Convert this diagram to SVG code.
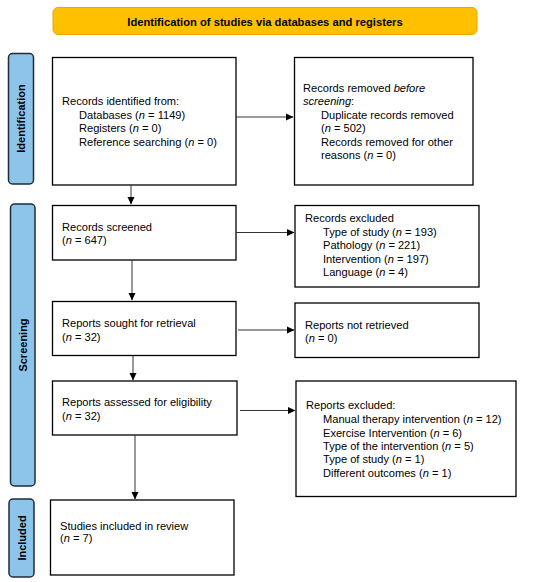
<svg xmlns="http://www.w3.org/2000/svg" width="550" height="582" viewBox="0 0 550 582">
<defs>
<marker id="ah" markerWidth="8" markerHeight="8" refX="7" refY="4" orient="auto" markerUnits="userSpaceOnUse">
<path d="M0,0.5 L7.5,4 L0,7.5 Z" fill="#000"/>
</marker>
</defs>
<style>
.box{fill:#fff;stroke:#000;stroke-width:1.3}
.t{font-family:"Liberation Sans",Arial,sans-serif;font-size:11.1px;fill:#000}
.side{fill:#8DC5EA;stroke:#1f2d3a;stroke-width:1.5}
.sl{font-family:"Liberation Sans",Arial,sans-serif;font-size:11px;font-weight:bold;fill:#000}
.c{stroke:#333;stroke-width:1;fill:none;marker-end:url(#ah)}
</style>
<rect width="550" height="582" fill="#fff"/>
<g id="title">
<rect x="53" y="7.5" width="424" height="27" rx="5" fill="#FFC000" stroke="#E8A800" stroke-width="1"/>
<text x="265" y="26" text-anchor="middle" class="t" style="font-weight:bold;font-size:11.2px">Identification of studies via databases and registers</text>
</g>
<g id="side-identification">
<rect class="side" x="8.5" y="53.5" width="25" height="130.5" rx="4"/>
<text class="sl" transform="translate(25,118.5) rotate(-90)" text-anchor="middle">Identification</text>
</g>
<g id="side-screening">
<rect class="side" x="10.5" y="204" width="24.5" height="282" rx="4"/>
<text class="sl" transform="translate(27,345) rotate(-90)" text-anchor="middle">Screening</text>
</g>
<g id="side-included">
<rect class="side" x="9" y="499" width="25" height="78" rx="4"/>
<text class="sl" transform="translate(25.5,538) rotate(-90)" text-anchor="middle">Included</text>
</g>
<g id="n1">
<rect class="box" x="52.5" y="57.5" width="183.5" height="127.5"/>
<text class="t" x="62" y="104.5">Records identified from:</text>
<text class="t" x="79" y="118.5">Databases (<tspan font-style="italic">n</tspan> = 1149)</text>
<text class="t" x="79" y="132">Registers (<tspan font-style="italic">n</tspan> = 0)</text>
<text class="t" x="79" y="145.5">Reference searching (<tspan font-style="italic">n</tspan> = 0)</text>
</g>
<g id="n2">
<rect class="box" x="294.5" y="57.5" width="178.5" height="127.5"/>
<text class="t" x="303" y="92">Records removed <tspan font-style="italic">before</tspan></text>
<text class="t" x="303" y="105"><tspan font-style="italic">screening</tspan>:</text>
<text class="t" x="321" y="118.5">Duplicate records removed</text>
<text class="t" x="321" y="132">(<tspan font-style="italic">n</tspan> = 502)</text>
<text class="t" x="321" y="145.5">Records removed for other</text>
<text class="t" x="321" y="159">reasons (<tspan font-style="italic">n</tspan> = 0)</text>
</g>
<g id="n3">
<rect class="box" x="52.5" y="205.5" width="183.5" height="54.5"/>
<text class="t" x="62" y="230.5">Records screened</text>
<text class="t" x="62" y="244">(<tspan font-style="italic">n</tspan> = 647)</text>
</g>
<g id="n4">
<rect class="box" x="295" y="205.5" width="184" height="81.5"/>
<text class="t" x="305" y="221.5">Records excluded</text>
<text class="t" x="323" y="235.5">Type of study (<tspan font-style="italic">n</tspan> = 193)</text>
<text class="t" x="323" y="249">Pathology (<tspan font-style="italic">n</tspan> = 221)</text>
<text class="t" x="323" y="262.5">Intervention (<tspan font-style="italic">n</tspan> = 197)</text>
<text class="t" x="323" y="275.5">Language (<tspan font-style="italic">n</tspan> = 4)</text>
</g>
<g id="n5">
<rect class="box" x="52.5" y="301.5" width="183.5" height="54"/>
<text class="t" x="62" y="326.5">Reports sought for retrieval</text>
<text class="t" x="62" y="340.5">(<tspan font-style="italic">n</tspan> = 32)</text>
</g>
<g id="n6">
<rect class="box" x="295" y="303" width="184" height="54.5"/>
<text class="t" x="305" y="329">Reports not retrieved</text>
<text class="t" x="305" y="342">(<tspan font-style="italic">n</tspan> = 0)</text>
</g>
<g id="n7">
<rect class="box" x="52.5" y="381" width="184.5" height="54"/>
<text class="t" x="62" y="405.5">Reports assessed for eligibility</text>
<text class="t" x="62" y="420">(<tspan font-style="italic">n</tspan> = 32)</text>
</g>
<g id="n8">
<rect class="box" x="296" y="381" width="220" height="115.5"/>
<text class="t" x="306" y="409">Reports excluded:</text>
<text class="t" x="323" y="423">Manual therapy intervention (<tspan font-style="italic">n</tspan> = 12)</text>
<text class="t" x="323" y="436.5">Exercise Intervention (<tspan font-style="italic">n</tspan> = 6)</text>
<text class="t" x="323" y="450">Type of the intervention (<tspan font-style="italic">n</tspan> = 5)</text>
<text class="t" x="323" y="463">Type of study (<tspan font-style="italic">n</tspan> = 1)</text>
<text class="t" x="323" y="476.5">Different outcomes (<tspan font-style="italic">n</tspan> = 1)</text>
</g>
<g id="n9">
<rect class="box" x="50.5" y="500" width="183.5" height="75"/>
<text class="t" x="60" y="529.5">Studies included in review</text>
<text class="t" x="60" y="542">(<tspan font-style="italic">n</tspan> = 7)</text>
</g>
<g id="connectors">
<line class="c" x1="236" y1="117" x2="293" y2="117"/>
<line class="c" x1="131" y1="185" x2="131" y2="204"/>
<line class="c" x1="236" y1="232.5" x2="294" y2="232.5"/>
<line class="c" x1="132" y1="260" x2="132" y2="300"/>
<line class="c" x1="238" y1="330" x2="294" y2="330"/>
<line class="c" x1="133" y1="355.5" x2="133" y2="380"/>
<line class="c" x1="240" y1="410.5" x2="295" y2="410.5"/>
<line class="c" x1="135" y1="435" x2="135" y2="499"/>
</g>
</svg>
